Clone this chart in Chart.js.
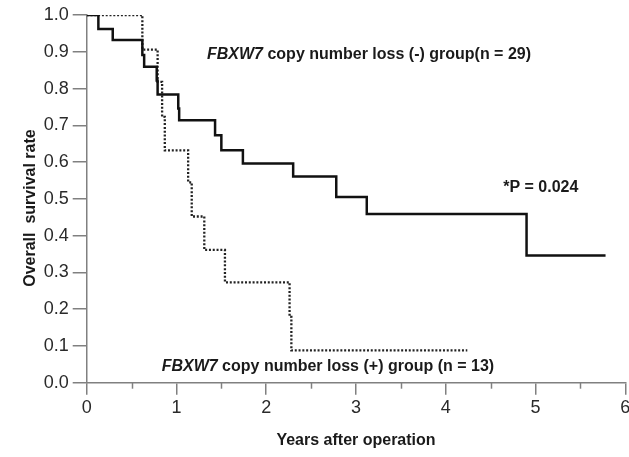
<!DOCTYPE html>
<html>
<head>
<meta charset="utf-8">
<script src="https://cdn.jsdelivr.net/npm/chart.js@4/dist/chart.umd.min.js"></script>
<style>
  html, body { margin: 0; padding: 0; background: #ffffff; }
  canvas { display: block; }
</style>
</head>
<body>
<canvas id="c" width="629" height="457"></canvas>
<script>
// Kaplan-Meier steps: time (years) at which survival changes, and survival after the change
const lossNegTimes = [0, 0.13, 0.29, 0.62, 0.64, 0.78, 0.79, 1.02, 1.03, 1.43, 1.50, 1.74, 2.30, 2.78, 3.12, 4.90, 5.78];
const lossNegSurv  = [1, 0.962, 0.932, 0.891, 0.859, 0.822, 0.784, 0.746, 0.714, 0.673, 0.632, 0.596, 0.561, 0.505, 0.459, 0.346, 0.346];

const lossPosTimes = [0, 0.62, 0.79, 0.84, 0.87, 1.13, 1.17, 1.31, 1.54, 2.26, 2.28, 4.24];
const lossPosSurv  = [1, 0.906, 0.818, 0.723, 0.632, 0.545, 0.452, 0.361, 0.273, 0.179, 0.088, 0.088];

const xTickValues = [0, 1, 2, 3, 4, 5, 6];
const yTickLabels = ['0.0','0.1','0.2','0.3','0.4','0.5','0.6','0.7','0.8','0.9','1.0'];

const labelNeg = ['FBXW7', ' copy number loss (-) group(n = 29)'];
const labelPos = ['FBXW7', ' copy number loss (+) group (n = 13)'];
const labelP = '*P = 0.024';
const yTitle = 'Overall  survival rate';
const xTitle = 'Years after operation';

const FONT = '"Liberation Sans", Arial, Helvetica, sans-serif';
const AXIS_COLOR = '#808080';
const TEXT_COLOR = '#1a1a1a';
const TICK_COLOR = '#2a2a2a';

function toPts(xs, ys) { return xs.map((x, i) => ({ x: x, y: ys[i] })); }

const annotationPlugin = {
  id: 'kmExtras',
  afterDraw(chart) {
    const ctx = chart.ctx;
    const xs = chart.scales.x, ys = chart.scales.y;
    ctx.save();
    // minor ticks at half years
    ctx.strokeStyle = AXIS_COLOR;
    ctx.lineWidth = 1.5;
    for (let v = 0.5; v < 6; v += 1) {
      const px = Math.round(xs.getPixelForValue(v)) + 0.5;
      ctx.beginPath();
      ctx.moveTo(px, ys.bottom);
      ctx.lineTo(px, ys.bottom + 6);
      ctx.stroke();
    }
    // text annotations
    ctx.fillStyle = TEXT_COLOR;
    ctx.textBaseline = 'middle';
    ctx.textAlign = 'left';
    function mixed(parts, xv, yv) {
      let x = xs.getPixelForValue(xv);
      const y = ys.getPixelForValue(yv);
      ctx.font = 'italic bold 16px ' + FONT;
      ctx.fillText(parts[0], x, y);
      x += ctx.measureText(parts[0]).width;
      ctx.font = 'bold 16px ' + FONT;
      ctx.fillText(parts[1], x, y);
    }
    mixed(labelNeg, 1.34, 0.891);
    mixed(labelPos, 0.835, 0.043);
    ctx.font = 'bold 16px ' + FONT;
    ctx.fillText(labelP, xs.getPixelForValue(4.64), ys.getPixelForValue(0.53));
    // y axis title
    ctx.save();
    ctx.translate(31, ys.getPixelForValue(0.475));
    ctx.rotate(-Math.PI / 2);
    ctx.textAlign = 'center';
    ctx.fillText(yTitle, 0, 0);
    ctx.restore();
    ctx.restore();
  }
};

new Chart(document.getElementById('c'), {
  type: 'line',
  data: {
    datasets: [
      {
        label: 'FBXW7 copy number loss (-)',
        data: toPts(lossNegTimes, lossNegSurv),
        borderColor: '#111111',
        borderWidth: 2.5,
        stepped: 'before',
        pointRadius: 0,
        fill: false
      },
      {
        label: 'FBXW7 copy number loss (+)',
        data: toPts(lossPosTimes, lossPosSurv),
        borderColor: '#222222',
        borderWidth: 2.3,
        borderDash: [2, 1.8],
        stepped: 'before',
        pointRadius: 0,
        fill: false
      }
    ]
  },
  options: {
    responsive: false,
    animation: false,
    events: [],
    layout: { padding: { top: 15, right: 3.7, left: 0, bottom: 0 } },
    plugins: { legend: { display: false }, tooltip: { enabled: false } },
    scales: {
      x: {
        type: 'linear',
        min: 0, max: 6,
        afterBuildTicks(scale) { scale.ticks = xTickValues.map(v => ({ value: v })); },
        afterFit(scale) { scale.height = 74.3; scale.paddingRight = 0; scale.paddingLeft = 0; },
        ticks: {
          color: TICK_COLOR,
          font: { family: FONT, size: 18 },
          padding: 3,
          maxRotation: 0,
          autoSkip: false,
          callback: v => String(v)
        },
        grid: { display: true, drawOnChartArea: false, drawTicks: true, tickLength: 12, color: AXIS_COLOR, lineWidth: 1.5 },
        border: { display: true, color: AXIS_COLOR, width: 1.5 },
        title: {
          display: true,
          text: xTitle,
          color: TEXT_COLOR,
          font: { family: FONT, size: 16, weight: 'bold' },
          padding: { top: 0, bottom: 7 }
        }
      },
      y: {
        type: 'linear',
        min: 0, max: 1,
        afterBuildTicks(scale) { scale.ticks = yTickLabels.map(t => ({ value: parseFloat(t) })); },
        afterFit(scale) { scale.width = 86.7; },
        ticks: {
          color: TICK_COLOR,
          font: { family: FONT, size: 18 },
          padding: 4,
          autoSkip: false,
          callback: v => v.toFixed(1)
        },
        grid: { display: true, drawOnChartArea: false, drawTicks: true, tickLength: 14, color: AXIS_COLOR, lineWidth: 1.5 },
        border: { display: true, color: AXIS_COLOR, width: 1.5 },
        title: { display: false }
      }
    }
  },
  plugins: [annotationPlugin]
});
</script>
</body>
</html>
